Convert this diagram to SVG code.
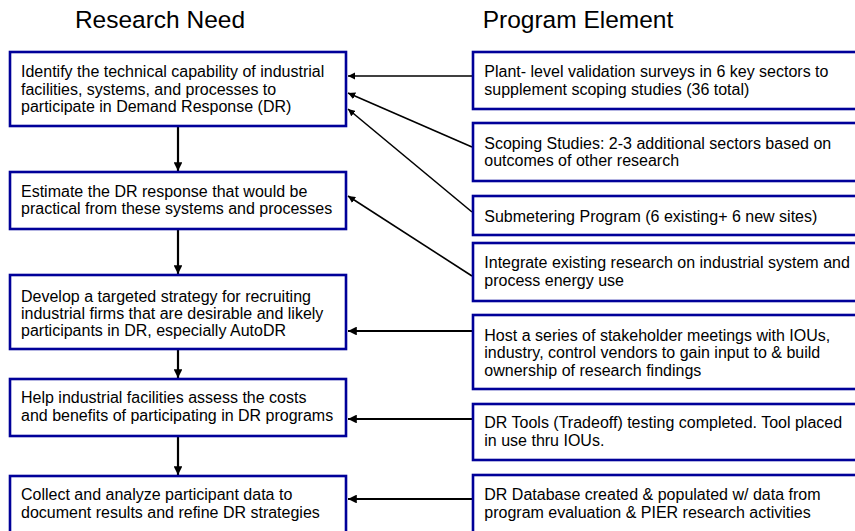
<svg xmlns="http://www.w3.org/2000/svg" width="855" height="531" viewBox="0 0 855 531">
<style>
.box{fill:#fff;stroke:#000099;stroke-width:2.6}
.t{font-family:"Liberation Sans",Arial,sans-serif;font-size:16px;fill:#000}
.h{font-family:"Liberation Sans",Arial,sans-serif;font-size:24.5px;fill:#000}
.thin{stroke:#000;stroke-width:1.6;fill:none}
.thick{stroke:#000;stroke-width:2.2;fill:none}
</style>
<defs>
<marker id="ah" viewBox="0 0 10 10" refX="10" refY="5" markerWidth="4.5" markerHeight="4.5" orient="auto" markerUnits="strokeWidth">
<path d="M0,0 L10,5 L0,10 z" fill="#000"/>
</marker>
<marker id="ah2" viewBox="0 0 10 10" refX="10" refY="5" markerWidth="4" markerHeight="4" orient="auto" markerUnits="strokeWidth">
<path d="M0,0 L10,5 L0,10 z" fill="#000"/>
</marker>
</defs>
<rect width="855" height="531" fill="#fff"/>
<text class="h" x="160" y="28" text-anchor="middle">Research Need</text>
<text class="h" x="578" y="28" text-anchor="middle">Program Element</text>

<g id="connectors">
<line class="thick" x1="178" y1="127" x2="178" y2="171" marker-end="url(#ah2)"/>
<line class="thick" x1="178" y1="230" x2="178" y2="274" marker-end="url(#ah2)"/>
<line class="thick" x1="178" y1="350" x2="178" y2="378" marker-end="url(#ah2)"/>
<line class="thick" x1="178" y1="437" x2="178" y2="475" marker-end="url(#ah2)"/>
<line class="thin" x1="472" y1="76" x2="348" y2="76" marker-end="url(#ah)"/>
<line class="thin" x1="472" y1="147" x2="348" y2="93" marker-end="url(#ah)"/>
<line class="thin" x1="472" y1="212" x2="348" y2="109" marker-end="url(#ah)"/>
<line class="thin" x1="472" y1="276" x2="348" y2="196" marker-end="url(#ah)"/>
<line class="thick" x1="472" y1="331" x2="348" y2="331" marker-end="url(#ah2)"/>
<line class="thick" x1="472" y1="419" x2="348" y2="419" marker-end="url(#ah2)"/>
<line class="thick" x1="472" y1="499" x2="348" y2="499" marker-end="url(#ah2)"/>
</g>

<g id="need1">
<rect class="box" x="10" y="52" width="336" height="74"/>
<text class="t" x="21" y="77.3">Identify the technical capability of industrial</text>
<text class="t" x="21" y="94.6">facilities, systems, and processes  to</text>
<text class="t" x="21" y="112">participate in Demand Response (DR)</text>
</g>
<g id="need2">
<rect class="box" x="10" y="172" width="336" height="57"/>
<text class="t" x="21" y="196.7">Estimate the DR response that would be</text>
<text class="t" x="21" y="214">practical from these systems and processes</text>
</g>
<g id="need3">
<rect class="box" x="10" y="275" width="336" height="74"/>
<text class="t" x="21" y="301.7">Develop a targeted strategy for recruiting</text>
<text class="t" x="21" y="319">industrial firms that are desirable and likely</text>
<text class="t" x="21" y="336.3">participants in DR, especially AutoDR</text>
</g>
<g id="need4">
<rect class="box" x="10" y="379" width="336" height="57"/>
<text class="t" x="21" y="403.3">Help industrial facilities assess the costs</text>
<text class="t" x="21" y="420.7">and benefits of participating in DR programs</text>
</g>
<g id="need5">
<rect class="box" x="10" y="476" width="336" height="70"/>
<text class="t" x="21" y="500">Collect and analyze participant data to</text>
<text class="t" x="21" y="517.5">document results and refine DR strategies</text>
</g>

<g id="elem1">
<rect class="box" x="473" y="52" width="400" height="57"/>
<text class="t" x="484.3" y="77.3">Plant- level validation surveys in 6 key sectors to</text>
<text class="t" x="484.3" y="94.6">supplement scoping studies (36 total)</text>
</g>
<g id="elem2">
<rect class="box" x="473" y="123" width="400" height="58"/>
<text class="t" x="484.3" y="149">Scoping Studies: 2-3 additional sectors based on</text>
<text class="t" x="484.3" y="166">outcomes of other research</text>
</g>
<g id="elem3">
<rect class="box" x="473" y="196" width="400" height="39"/>
<text class="t" x="484.3" y="221.7">Submetering Program (6 existing+ 6 new sites)</text>
</g>
<g id="elem4">
<rect class="box" x="473" y="243" width="400" height="58"/>
<text class="t" x="484.3" y="268.3">Integrate existing research on industrial system and</text>
<text class="t" x="484.3" y="285.7">process energy use</text>
</g>
<g id="elem5">
<rect class="box" x="473" y="315" width="400" height="74"/>
<text class="t" x="484.3" y="341">Host a series of stakeholder meetings with IOUs,</text>
<text class="t" x="484.3" y="358.3">industry, control vendors to gain input to &amp; build</text>
<text class="t" x="484.3" y="375.5">ownership of research findings</text>
</g>
<g id="elem6">
<rect class="box" x="473" y="404" width="400" height="56"/>
<text class="t" x="484.3" y="428.3">DR Tools (Tradeoff) testing completed. Tool placed</text>
<text class="t" x="484.3" y="445.7">in use thru IOUs.</text>
</g>
<g id="elem7">
<rect class="box" x="473" y="475" width="400" height="70"/>
<text class="t" x="484.3" y="500">DR Database created &amp; populated w/ data from</text>
<text class="t" x="484.3" y="517.5">program evaluation &amp; PIER research activities</text>
</g>
</svg>
